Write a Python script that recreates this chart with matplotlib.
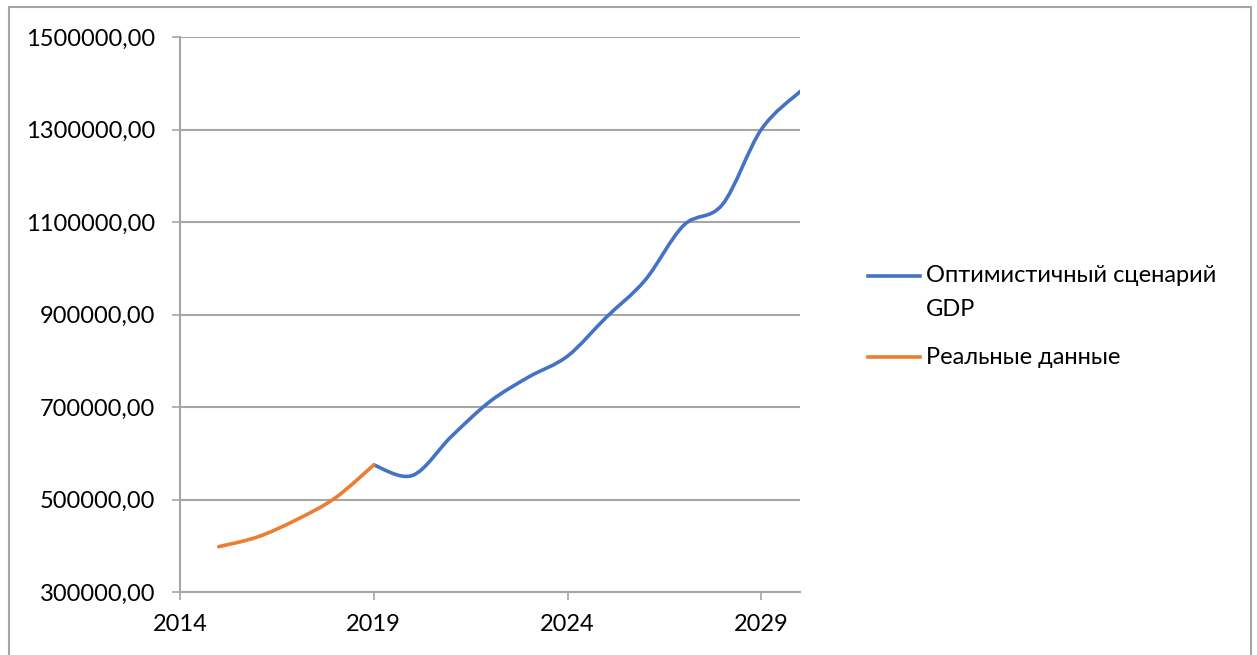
import matplotlib
matplotlib.use('Agg')
import matplotlib.pyplot as plt
from matplotlib.path import Path
from matplotlib.patches import PathPatch, Rectangle
from matplotlib.lines import Line2D
from matplotlib.ticker import FuncFormatter

plt.rcParams['font.family'] = ['Lato', 'Open Sans', 'DejaVu Sans']

# real data 2015-2019, optimistic scenario 2019-2030
years_real = [2015, 2016, 2017, 2018, 2019]
gdp_real = [398000, 419000, 456000, 503000, 574600]
years_opt = [2019, 2020, 2021, 2022, 2023, 2024, 2025, 2026, 2027, 2028, 2029, 2030]
gdp_opt = [574600, 552000, 636000, 712000, 765000, 810000, 894000, 974000,
           1093000, 1138000, 1300000, 1382000]
label_opt = 'Оптимистичный сценарий\nGDP'
label_real = 'Реальные данные'
x_ticks = [2014, 2019, 2024, 2029]
y_ticks = [300000, 500000, 700000, 900000, 1100000, 1300000, 1500000]

blue = '#4472C4'
orange = '#ED7D31'
grid_c = '#A6A6A6'


def smooth_path(xs, ys):
    # Excel-like smoothed line: cubic bezier through every point
    pts = list(zip(xs, ys))
    verts = [pts[0]]
    codes = [Path.MOVETO]
    n = len(pts)
    for i in range(n - 1):
        p0 = pts[max(i - 1, 0)]
        p1 = pts[i]
        p2 = pts[i + 1]
        p3 = pts[min(i + 2, n - 1)]
        c1 = (p1[0] + (p2[0] - p0[0]) / 6, p1[1] + (p2[1] - p0[1]) / 6)
        c2 = (p2[0] - (p3[0] - p1[0]) / 6, p2[1] - (p3[1] - p1[1]) / 6)
        verts += [c1, c2, p2]
        codes += [Path.CURVE4] * 3
    return Path(verts, codes)


fig = plt.figure(figsize=(12.57, 6.55), dpi=100)
ax = fig.add_axes([180 / 1257, 1 - 592 / 655, 620 / 1257, 555 / 655])

ax.add_patch(PathPatch(smooth_path(years_opt, gdp_opt), fill=False,
                       edgecolor=blue, lw=2.6, capstyle='round', zorder=3))
ax.add_patch(PathPatch(smooth_path(years_real, gdp_real), fill=False,
                       edgecolor=orange, lw=2.6, capstyle='round', zorder=3))

ax.set_xlim(2014, 2030)
ax.set_ylim(300000, 1500000)
ax.set_xticks(x_ticks)
ax.set_yticks(y_ticks)
ax.yaxis.set_major_formatter(FuncFormatter(lambda v, p: f'{v:.2f}'.replace('.', ',')))
ax.grid(axis='y', color=grid_c, lw=1.5)
ax.set_axisbelow(True)
for s in ['top', 'right']:
    ax.spines[s].set_visible(False)
for s in ['left', 'bottom']:
    ax.spines[s].set_color(grid_c)
    ax.spines[s].set_linewidth(1.5)
ax.tick_params(axis='y', length=6, width=1.2, color=grid_c, pad=12, labelsize=17)
ax.tick_params(axis='x', length=6, width=1.2, color=grid_c, pad=10, labelsize=17)

# legend drawn at the right of the plot
fig.add_artist(Line2D([868 / 1257, 920 / 1257], [1 - 276 / 655, 1 - 276 / 655],
                      color=blue, lw=2.6, transform=fig.transFigure))
fig.add_artist(Line2D([868 / 1257, 920 / 1257], [1 - 357 / 655, 1 - 357 / 655],
                      color=orange, lw=2.6, transform=fig.transFigure))
fig.text(926 / 1257, 1 - 276 / 655, label_opt.split('\n')[0], fontsize=17, va='center')
fig.text(926 / 1257, 1 - 309 / 655, label_opt.split('\n')[1], fontsize=17, va='center')
fig.text(926 / 1257, 1 - 357 / 655, label_real, fontsize=17, va='center')

# chart area border
fig.add_artist(Rectangle((9 / 1257, -0.02), 1242 / 1257, 1.02 - 7 / 655,
                         fill=False, edgecolor=grid_c, lw=1.5,
                         transform=fig.transFigure))

fig.savefig('out.png', dpi=100)
